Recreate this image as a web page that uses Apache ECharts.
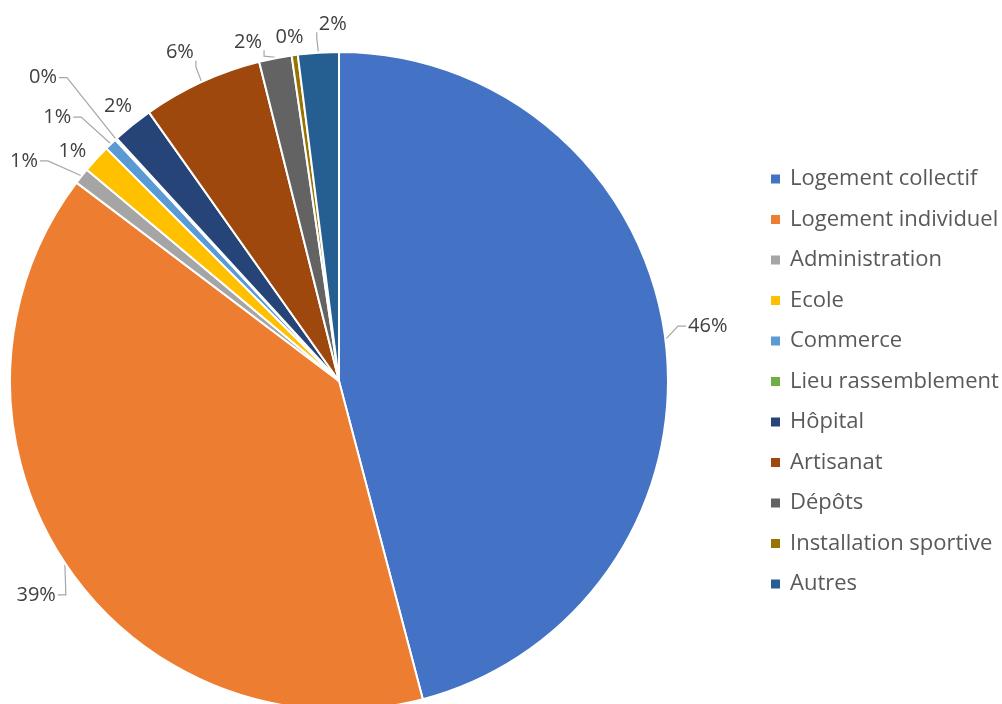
<!DOCTYPE html>
<html><head><meta charset="utf-8">
<script src="https://cdn.jsdelivr.net/npm/echarts@6/dist/echarts.min.js"></script>
<style>html,body{margin:0;padding:0;background:#fff}#c{width:1002px;height:704px}</style>
</head><body><div id="c"></div>
<script>
const categories = ['Logement collectif','Logement individuel','Administration','Ecole','Commerce','Lieu rassemblement','Hôpital','Artisanat','Dépôts','Installation sportive','Autres'];
const values = [45.9, 39.4, 0.8, 1.4, 0.6, 0.1, 2.0, 5.9, 1.6, 0.3, 2.0];
const colors = ['#4472C4','#ED7D31','#A5A5A5','#FFC000','#5B9BD5','#70AD47','#264478','#9E480E','#636363','#997300','#255E91'];
// label placement tweaks (Excel "best fit" imitation): extra radial gap and angular shift (deg)
const labelGap   = [23, 19, 39, 7, 41, 79, 8, 22, 10, 8, 19];
const labelShift = [-1.3, -1.2, -3.4, -1.5, -2.8, -1.5, 0.2, -1.1, -3.8, -0.4, 2.6];

const CX = 339, CY = 381, R = 329;
const total = values.reduce((a,b)=>a+b,0);
const mids = [];
{ let acc = 0; values.forEach(v => { mids.push((acc + v/2)/total*360); acc += v; }); }

const chart = echarts.init(document.getElementById('c'), null, {renderer:'canvas'});
chart.setOption({
  animation:false,
  color: colors,
  legend: {
    orient:'vertical', left:769, top:168, padding:0,
    icon:'rect', itemWidth:11, itemHeight:11, itemGap:18.5,
    textStyle:{fontFamily:'Open Sans', fontSize:22, color:'#595959', lineHeight:20, padding:[0,0,0,4]},
    data: categories
  },
  series:[{
    type:'pie', center:[CX,CY], radius:[0,R], startAngle:90, clockwise:true,
    itemStyle:{borderColor:'#fff', borderWidth:2},
    label:{show:true, position:'outside', fontFamily:'Open Sans', fontSize:20, color:'#404040',
      formatter:p=>Math.round(p.value/total*100)+'%'},
    labelLine:{show:true, length:10, length2:10, lineStyle:{color:'#A6A6A6', width:1.2}},
    avoidLabelOverlap:false,
    labelLayout: function(p){
      const i = p.dataIndex;
      const th = mids[i]*Math.PI/180, th2 = (mids[i]+labelShift[i])*Math.PI/180;
      const ux = Math.sin(th2), uy = -Math.cos(th2);
      const w = p.labelRect.width, h = p.labelRect.height;
      const d = R + labelGap[i] + Math.abs(ux)*w/2 + Math.abs(uy)*h/2;
      const cx = CX + ux*d, cy = CY + uy*d + 1.5;
      const ex = CX + Math.sin(th)*(R+1), ey = CY - Math.cos(th)*(R+1);
      let pts;
      if (labelGap[i] >= 10) {
        if (Math.abs(ux) > 0.5) {
          const sx = ex < cx ? cx - w/2 - 2 : cx + w/2 + 2;
          const el = ex < cx ? sx - 8 : sx + 8;
          pts = [[ex,ey],[el,cy],[sx,cy]];
        } else {
          const sy = ey > cy ? cy + h/2 - 2 : cy - h/2 + 2;
          const sx = ex < cx ? cx - w/2 - 2 : cx + w/2 + 2;
          pts = [[ex,ey],[sx,sy+ (ey>cy?6:-6)],[sx,sy]];
        }
      } else {
        pts = [[ex,ey],[ex,ey],[ex,ey]];
      }
      return {x:cx, y:cy, align:'center', verticalAlign:'middle', labelLinePoints:pts};
    },
    data: categories.map((n,i)=>({name:n, value:values[i]}))
  }]
});
</script></body></html>
